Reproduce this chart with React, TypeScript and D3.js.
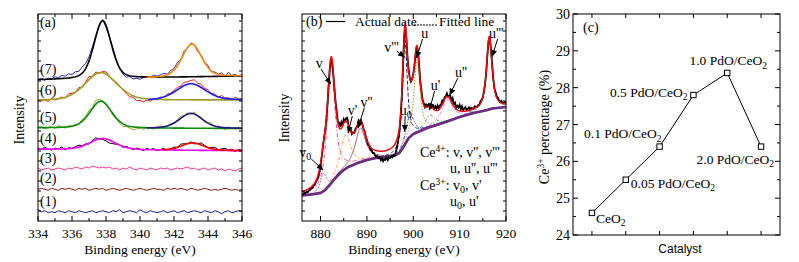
import React from "react";
import * as d3 from "d3";

// ================= Panel (a): Pd 3d spectra =================
const energyStartA = 334;
const energyStepA = 0.2;
const xTickValuesA = [334, 336, 338, 340, 342, 344, 346];
const traceLabelsA = ["(1)", "(2)", "(3)", "(4)", "(5)", "(6)", "(7)"];
// traces (1)-(3): flat level (a.u.) + measured wiggle
const flatLevelsA = [9.3, 31.7, 52];
const noise1 = [2,0,1,-1,0,-1,1,0,-1,1, 0,-1,1,0,-1,0,1,-1,0,1, 0,-1,1,0,2,-1,0,1,0,-1, 2,0,-1,1,0,-1,0,1,-1,0, 1,-1,0,1,-1,0,1,0,-1,1, 0,-1,1,0,-2,0,1,-1,0,1,0];
const noise2 = [0,1,0,-1,1,0,-1,1,0,1, 0,-1,1,0,1,-1,0,1,0,1, -1,0,1,0,-1,0,1,0,-1,0, 1,0,-1,0,1,0,0,-1,1,0, 1,0,1,0,-1,1,0,-1,0,1, 0,-1,0,-1,0,1,0,-1,0,-1,0];
const noise3 = [1,-1,0,1,-1,0,1,0,-1,1, 0,2,1,0,2,1,3,2,1,2, 1,2,0,1,-1,1,0,2,0,-1, 1,0,-1,1,0,-1,1,0,1,-1, 0,1,0,1,2,0,1,-1,0,1, -1,0,1,-1,0,-2,0,-1,-2,0,1];
// traces (4)-(7): measured minus fit
const noise4 = [1,0,2,0,-1,1,0,2,-1,1, 0,1,2,0,1,-1,1,2,0,-1, -2,-3,-2,-1,0,-1,1,0,-1,1, 0,-1,1,0,1,-1,0,1,-1,0, 1,0,2,1,0,1,-1,0,2,1, 0,1,2,0,1,2,0,1,-1,1,0];
const noise5 = [0,1,-1,0,1,-1,2,0,-1,1, 0,1,-1,2,1,3,1,4,2,1, -1,0,-2,-1,-2,-3,-1,-2,-3,-2, -1,-2,0,-1,-2,0,1,-1,0,1, 0,1,2,0,1,-1,2,0,1,-1, 0,2,-1,1,0,-2,1,0,-1,1,0];
const noise6 = [0,-1,0,-2,1,-1,0,1,-1,2, 1,0,2,-1,1,3,0,2,-1,1, 2,0,-1,1,0,-1,-2,-3,-2,-4, -3,-4,-2,-3,-1,-2,0,-1,1,0, 1,2,1,3,2,3,4,2,3,1, 2,0,1,-1,2,0,1,-1,2,0,1];
const noise7 = [0,1,-1,1,0,2,1,3,2,4, 3,5,4,6,5,4,3,1,-1,1, -2,0,2,1,-1,-2,-3,-1,-3,-2, -3,-1,0,-1,1,0,1,2,0,2, 1,3,0,2,-1,1,0,-2,1,0, 2,-1,1,0,2,-1,3,0,1,-1,1];
// fitted traces (4)..(7)
const fitBaseLeftA = [71.7, 93, 120.3, 141];
const fitBaseRightA = [70.3, 92.5, 121, 145];
const peak1CenterA = [337.8, 337.7, 337.7, 337.8];
const peak1HeightA = [11.3, 27, 28, 58];
const peak1FwhmA = [1.8, 1.5, 2.2, 1.2];
const peak2CenterA = [343.1, 343.0, 343.0, 343.05];
const peak2HeightA = [7.5, 15, 16.5, 33];
const peak2FwhmA = [1.5, 1.6, 2.0, 1.35];
const peak2StartA = [341.3, 340.4, 340.5, 340.4];

// ================= Panel (b): Ce 3d spectrum =================
const energyStartB = 876;
const energyStepB = 0.25;
const xTickValuesB = [880, 890, 900, 910, 920];
const bgEnergyB = [876, 878, 880, 881, 882, 883, 884, 885, 886, 888, 890, 892, 894, 896, 897, 898, 899, 900, 901, 903, 905, 907, 910, 913, 915, 916, 917, 918, 920];
const bgLevelB = [25.5, 26.5, 28, 31, 36, 42, 47, 51, 54, 58, 61, 63, 64, 65.5, 68, 75, 83, 87, 89, 93, 96, 99, 104, 108, 110, 111, 112.5, 113, 114];
const compNamesB = ["v0", "v", "v'", "v''", "v'''", "u0", "u", "u'", "u''", "u'''"];
const compCenterB = [880.6, 882.3, 885.4, 888.6, 898.2, 899.3, 900.8, 903.6, 907.3, 916.4];
const compHeightB = [18, 118, 34, 34, 104, 22, 73, 12, 22, 72];
const compFwhmB = [1.6, 2.0, 2.6, 2.6, 1.2, 2.0, 1.5, 2.5, 2.8, 1.4];
const residualB = [
  -3,-3,-2,-3,-2,-3,-2,-2, -1,-2,-1,-2,-1,-2,-3,-3,
  -3,-2,-1,0,-1,-2,-1,0, -1,-2,-3,-2,0,2,4,1,
  5,2,6,1,4,0,3,5, 1,0,2,-1,1,0,2,1,
  0,2,-1,1,0,-1,1,0, -1,-2,-1,-3,-2,-4,-3,-5,
  -6,-5,-7,-6,-9,-7,-10,-8, -9,-7,-10,-8,-9,-8,-10,-9,
  -11,-10,-8,-6,-4,-3,-2,-1, -2,-2,-1,0,1,0,-1,1,
  0,-1,-2,-1,1,2,0,3, 1,2,0,3,1,2,-1,2,
  0,3,1,4,2,5,1,3, 2,4,0,2,1,3,0,2,
  4,1,6,2,5,1,4,3, 6,2,5,1,3,4,1,2,
  3,0,2,1,0,2,1,0, 1,0,2,1,0,1,0,-1,
  0,-1,0,1,2,1,0,2, 1,2,1,0,2,1,1,2,
  1,
];

// ================= Panel (c): Ce3+ percentage =================
const catalysts = ["CeO2", "0.05 PdO/CeO2", "0.1 PdO/CeO2", "0.5 PdO/CeO2", "1.0 PdO/CeO2", "2.0 PdO/CeO2"];
const ce3Percent = [24.6, 25.5, 26.4, 27.8, 28.4, 26.4];
const yTickValuesC = [24, 25, 26, 27, 28, 29, 30];

// ---------- layout / style ----------
const FONT = "'Liberation Serif', 'Times New Roman', serif";
const colorsDataA = ["#1c1c8c", "#8b1c1c", "#ff3399", "#000000", "#a3a337", "#ff1a1a", "#2b2bc0"];
const colorsFit1A = ["#ff00ff", "#008a00", "#9c9c1f", "#000000"];
const colorsFit2A = ["#ff0000", "#1a1a80", "#1a1aff", "#ff8c00"];
const compColorB = ["#b030c0", "#ff3399", "#ff8c1a", "#a05050", "#1a1a99", "#3333ff", "#9a9a1a", "#22aa22", "#ff44ff", "#33aaaa"];
const compDashB = ["1.5,1.5", "4,2,1,2", "3,2,1,2", "", "4,2", "3,1.5,1,1.5,1,1.5", "1.5,1.5", "3,2,1,2", "3,2,1,2", "3,2"];
const annotB = [
  { name: "v0", tx: 876.7, ty: 69.3, ax: 878.0, ay: 62, bx: 880.55, by: 51 },
  { name: "v", tx: 879.72, ty: 157.7, ax: 880.1, ay: 152, bx: 882.2, by: 137 },
  { name: "v'", tx: 886.9, ty: 111, ax: 886.85, ay: 105, bx: 885.95, by: 88 },
  { name: "v''", tx: 889.9, ty: 119.3, ax: 889.45, ay: 113.5, bx: 888.1, by: 93 },
  { name: "v'''", tx: 895.3, ty: 174, ax: 896.4, ay: 170, bx: 898.1, by: 164 },
  { name: "u", tx: 902.45, ty: 187.7, ax: 902.0, ay: 182, bx: 900.7, by: 163 },
  { name: "u0", tx: 898.4, ty: 111, ax: 898.25, ay: 105, bx: 898.15, by: 89.5 },
  { name: "u'", tx: 904.8, ty: 136, ax: 904.6, ay: 130, bx: 903.5, by: 111 },
  { name: "u''", tx: 910.3, ty: 149.3, ax: 909.6, ay: 142.7, bx: 907.85, by: 126 },
  { name: "u'''", tx: 917.9, ty: 187.7, ax: 918.2, ay: 182, bx: 917.0, by: 164.5 },
];
const labelOffsetC = [
  { dx: 4, dy: 5.5, anchor: "start" },
  { dx: 5, dy: 3.5, anchor: "start" },
  { dx: 2, dy: -13, anchor: "end" },
  { dx: -6, dy: -3, anchor: "end" },
  { dx: 1, dy: -12, anchor: "middle" },
  { dx: 13, dy: 12.7, anchor: "end" },
];

function pv(x: number, c: number, h: number, fwhm: number, eta: number) {
  const d = (x - c) / (fwhm / 2);
  return h * (eta / (1 + d * d) + (1 - eta) * Math.exp(-Math.LN2 * d * d));
}

type Tick = { p: number; len: number };
function Frame({ x0, x1, y0, y1, xt, yt }: { x0: number; x1: number; y0: number; y1: number; xt: Tick[]; yt: Tick[] }) {
  return (
    <g stroke="#000" strokeWidth={1} fill="none">
      <rect x={x0} y={y0} width={x1 - x0} height={y1 - y0} />
      {xt.map((t, i) => (
        <g key={"x" + i}>
          <line x1={t.p} x2={t.p} y1={y1} y2={y1 - t.len} />
          <line x1={t.p} x2={t.p} y1={y0} y2={y0 + t.len} />
        </g>
      ))}
      {yt.map((t, i) => (
        <g key={"y" + i}>
          <line x1={x0} x2={x0 + t.len} y1={t.p} y2={t.p} />
          <line x1={x1} x2={x1 - t.len} y1={t.p} y2={t.p} />
        </g>
      ))}
    </g>
  );
}

function PanelA() {
  const xA = d3.scaleLinear().domain([334, 346]).range([38, 242]);
  const yA = d3.scaleLinear().domain([0, 207]).range([221, 14]);
  const line = d3.line<[number, number]>().x((d) => xA(d[0])).y((d) => yA(d[1]));
  const grid = noise1.map((_, i) => energyStartA + i * energyStepA);
  const fine = d3.range(334, 346.0001, 0.05);
  const flatNoise = [noise1, noise2, noise3];
  const fitNoise = [noise4, noise5, noise6, noise7];
  const base = (k: number, e: number) => fitBaseLeftA[k] + ((fitBaseRightA[k] - fitBaseLeftA[k]) * (e - 334)) / 12;
  const p1 = (k: number, e: number) => pv(e, peak1CenterA[k], peak1HeightA[k], peak1FwhmA[k], 0.3);
  const p2 = (k: number, e: number) => pv(e, peak2CenterA[k], peak2HeightA[k], peak2FwhmA[k], 0.3);
  const leftLevels = [...flatLevelsA, ...fitBaseLeftA];
  const xt: Tick[] = d3.range(334, 346.01, 1).map((v) => ({ p: xA(v), len: v % 2 === 0 ? 5 : 3 }));
  const yt: Tick[] = d3.range(10, 207, 10).map((v) => ({ p: yA(v), len: 3 }));
  return (
    <g>
      {flatNoise.map((nz, k) => (
        <path key={"f" + k} d={line(grid.map((e, i) => [e, flatLevelsA[k] + nz[i]]))!} fill="none" stroke={colorsDataA[k]} strokeWidth={1} />
      ))}
      {fitNoise.map((nz, k) => (
        <g key={"t" + k}>
          <path d={line(grid.map((e, i) => [e, base(k, e) + p1(k, e) + p2(k, e) + nz[i]]))!} fill="none" stroke={colorsDataA[k + 3]} strokeWidth={1} />
          <path d={line(fine.map((e) => [e, base(k, e) + p1(k, e)]))!} fill="none" stroke={colorsFit1A[k]} strokeWidth={1.6} />
          <path d={line(fine.filter((e) => e >= peak2StartA[k]).map((e) => [e, base(k, e) + p2(k, e)]))!} fill="none" stroke={colorsFit2A[k]} strokeWidth={1.6} />
        </g>
      ))}
      <Frame x0={38} x1={242} y0={14} y1={221} xt={xt} yt={yt} />
      {xTickValuesA.map((v) => (
        <text key={v} x={xA(v)} y={238} textAnchor="middle" fontSize={13.5}>{v}</text>
      ))}
      <text x={140} y={253.5} textAnchor="middle" fontSize={13.5}>Binding energy (eV)</text>
      <text transform="translate(24,120) rotate(-90)" textAnchor="middle" fontSize={14}>Intensity</text>
      <text x={40} y={27} fontSize={14}>(a)</text>
      {traceLabelsA.map((t, k) => (
        <text key={t} x={40} y={yA(leftLevels[k]) - 11 + 5} fontSize={14}>{t}</text>
      ))}
    </g>
  );
}

function CompLabel({ name, x, y }: { name: string; x: number; y: number }) {
  if (name.endsWith("0")) {
    return (
      <text x={x} y={y} textAnchor="middle" fontSize={14}>
        {name[0]}
        <tspan fontSize={10} dy={3}>0</tspan>
      </text>
    );
  }
  return <text x={x} y={y} textAnchor="middle" fontSize={14}>{name}</text>;
}

function PanelB() {
  const xB = d3.scaleLinear().domain([876, 920]).range([302, 506]);
  const yB = d3.scaleLinear().domain([0, 207]).range([221, 14]);
  const line = d3.line<[number, number]>().x((d) => xB(d[0])).y((d) => yB(d[1]));
  const bg = d3.scaleLinear().domain(bgEnergyB).range(bgLevelB);
  const fine = d3.range(876, 920.0001, 0.05);
  const comp = (k: number, e: number) => pv(e, compCenterB[k], compHeightB[k], compFwhmB[k], 0.8);
  const fit = (e: number) => bg(e) + compNamesB.reduce((s, _, k) => s + comp(k, e), 0);
  const grid = residualB.map((_, i) => energyStartB + i * energyStepB);
  const xt: Tick[] = d3.range(880, 920.01, 5).map((v) => ({ p: xB(v), len: v % 10 === 0 ? 5 : 3 }));
  const yt: Tick[] = d3.range(10, 207, 10).map((v) => ({ p: yB(v), len: 3 }));
  return (
    <g>
      {compNamesB.map((n, k) => (
        <path key={n} d={line(fine.map((e) => [e, bg(e) + comp(k, e)]))!} fill="none" stroke={compColorB[k]} strokeWidth={1} strokeDasharray={compDashB[k] || undefined} />
      ))}
      <path d={line(bgEnergyB.map((e, i) => [e, bgLevelB[i]]))!} fill="none" stroke="#2828a0" strokeWidth={2.6} />
      <path d={line(bgEnergyB.map((e, i) => [e, bgLevelB[i]]))!} fill="none" stroke="#8a2a6e" strokeWidth={1.6} />
      <path d={line(grid.map((e, i) => [e, fit(e) + residualB[i]]))!} fill="none" stroke="#000" strokeWidth={1.8} />
      <path d={line(fine.map((e) => [e, fit(e)]))!} fill="none" stroke="#ff0000" strokeWidth={1.4} />
      {annotB.map((a) => (
        <g key={a.name}>
          <line x1={xB(a.ax)} y1={yB(a.ay)} x2={xB(a.bx)} y2={yB(a.by)} stroke="#000" strokeWidth={1} markerEnd="url(#arrowHead)" />
          <CompLabel name={a.name} x={xB(a.tx)} y={yB(a.ty) + 5} />
        </g>
      ))}
      <Frame x0={302} x1={506} y0={14} y1={221} xt={xt} yt={yt} />
      {xTickValuesB.map((v) => (
        <text key={v} x={xB(v)} y={238} textAnchor="middle" fontSize={13.5}>{v}</text>
      ))}
      <text x={404} y={253.5} textAnchor="middle" fontSize={13.5}>Binding energy (eV)</text>
      <text transform="translate(289,118) rotate(-90)" textAnchor="middle" fontSize={14}>Intensity</text>
      <text x={306} y={26} fontSize={14}>(b)</text>
      <line x1={326} x2={345} y1={21.5} y2={21.5} stroke="#000" strokeWidth={1.2} />
      <text x={355} y={26} fontSize={13.5}>Actual date</text>
      <line x1={414} x2={437} y1={25} y2={25} stroke="#000" strokeWidth={1} strokeDasharray="2,1" />
      <text x={439} y={26} fontSize={13.5}>Fitted line</text>
      <text x={420} y={156.5} fontSize={14}>
        Ce<tspan fontSize={9.5} dy={-5}>4+</tspan>
        <tspan dy={5}>: v, v'', v'''</tspan>
      </text>
      <text x={450} y={173} fontSize={14}>u, u'', u'''</text>
      <text x={420} y={190} fontSize={14}>
        Ce<tspan fontSize={9.5} dy={-5}>3+</tspan>
        <tspan dy={5}>: v</tspan>
        <tspan fontSize={10} dy={3}>0</tspan>
        <tspan dy={-3}>, v'</tspan>
      </text>
      <text x={450} y={206} fontSize={14}>
        u<tspan fontSize={10} dy={3}>0</tspan>
        <tspan dy={-3}>, u'</tspan>
      </text>
    </g>
  );
}

function CatLabel({ name, x, y, anchor }: { name: string; x: number; y: number; anchor: string }) {
  const head = name.slice(0, -1);
  const sub = name.slice(-1);
  return (
    <text x={x} y={y} textAnchor={anchor as any} fontSize={13.5}>
      {head}
      <tspan fontSize={9.5} dy={3.5}>{sub}</tspan>
    </text>
  );
}

function PanelC() {
  const xC = d3.scalePoint<string>().domain(catalysts).range([573, 780]).padding(0.56);
  const yC = d3.scaleLinear().domain([24, 30]).range([235, 14]);
  const line = d3.line<number>().x((_, i) => xC(catalysts[i])!).y((d) => yC(d));
  const xt: Tick[] = catalysts.map((c) => ({ p: xC(c)!, len: 4 }));
  const yt: Tick[] = d3.range(24, 30.01, 0.5).map((v) => ({ p: yC(v), len: Number.isInteger(v) ? 5 : 3 }));
  return (
    <g>
      <Frame x0={573} x1={780} y0={14} y1={235} xt={xt} yt={yt} />
      <path d={line(ce3Percent)!} fill="none" stroke="#000" strokeWidth={1} />
      {ce3Percent.map((v, i) => (
        <rect key={i} x={xC(catalysts[i])! - 2.7} y={yC(v) - 2.7} width={5.4} height={5.4} fill="#fff" stroke="#000" strokeWidth={1} />
      ))}
      {catalysts.map((c, i) => (
        <CatLabel key={c} name={c} x={xC(c)! + labelOffsetC[i].dx} y={yC(ce3Percent[i]) + labelOffsetC[i].dy + 4.5} anchor={labelOffsetC[i].anchor} />
      ))}
      {yTickValuesC.map((v) => (
        <text key={v} x={570} y={yC(v) + 5} textAnchor="end" fontSize={14}>{v}</text>
      ))}
      <text x={583} y={31.5} fontSize={14}>(c)</text>
      <text x={680} y={253} textAnchor="middle" fontSize={12} fontFamily="'Liberation Sans', Arial, sans-serif">Catalyst</text>
      <text transform="translate(549,127) rotate(-90)" textAnchor="middle" fontSize={14}>
        Ce<tspan fontSize={9.5} dy={-5}>3+</tspan>
        <tspan dy={5}> percentage (%)</tspan>
      </text>
    </g>
  );
}

export default function App() {
  return (
    <svg width={799} height={262} viewBox="0 0 799 262" style={{ position: "absolute", left: 0, top: 0, background: "#fff" }} fontFamily={FONT}>
      <defs>
        <marker id="arrowHead" markerWidth={7} markerHeight={6} refX={6.5} refY={3} orient="auto" markerUnits="userSpaceOnUse">
          <path d="M0,0 L7,3 L0,6 z" fill="#000" />
        </marker>
      </defs>
      <rect x={0} y={0} width={799} height={262} fill="#fff" />
      <PanelA />
      <PanelB />
      <PanelC />
    </svg>
  );
}
